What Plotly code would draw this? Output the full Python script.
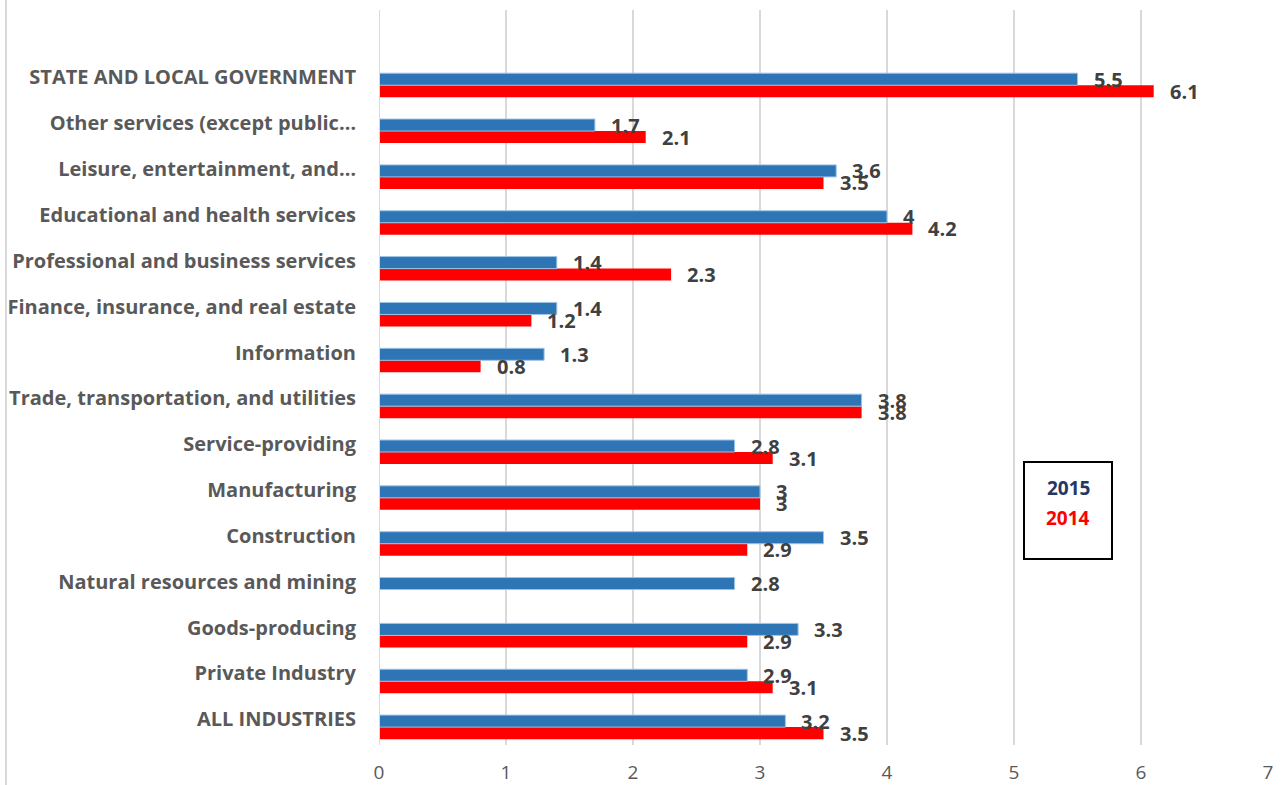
import plotly.graph_objects as go

categories = [
    "STATE AND LOCAL GOVERNMENT",
    "Other services (except public…",
    "Leisure, entertainment, and…",
    "Educational and health services",
    "Professional and business services",
    "Finance, insurance, and real estate",
    "Information",
    "Trade, transportation, and utilities",
    "Service-providing",
    "Manufacturing",
    "Construction",
    "Natural resources and mining",
    "Goods-producing",
    "Private Industry",
    "ALL INDUSTRIES",
]
values_2015 = [5.5, 1.7, 3.6, 4, 1.4, 1.4, 1.3, 3.8, 2.8, 3, 3.5, 2.8, 3.3, 2.9, 3.2]
values_2014 = [6.1, 2.1, 3.5, 4.2, 2.3, 1.2, 0.8, 3.8, 3.1, 3, 2.9, None, 2.9, 3.1, 3.5]
x_ticks = [0, 1, 2, 3, 4, 5, 6, 7]

n = len(categories)
pos = [n - 1 - i for i in range(n)]
BW = 0.262
OFF = BW / 2

BLUE = "#2E75B6"
RED = "#FF0000"
LABEL = "#404040"
FONT = "Open Sans"

fig = go.Figure()
fig.add_trace(go.Bar(
    y=[p - OFF for p in pos], x=values_2014, orientation="h", width=BW,
    marker=dict(color=RED, line=dict(width=0)), name="2014", showlegend=False,
))
fig.add_trace(go.Bar(
    y=[p + OFF for p in pos], x=values_2015, orientation="h", width=BW,
    marker=dict(color=BLUE, line=dict(color="#9DC3E6", width=1)), name="2015", showlegend=False,
))

annotations = []
for p, v in zip(pos, values_2015):
    if v is not None:
        annotations.append(dict(x=v, y=p + OFF, xref="x", yref="y", text=f"<b>{v:g}</b>",
                                showarrow=False, xanchor="left", yanchor="middle", xshift=14, yshift=0,
                                font=dict(family=FONT, size=20, color=LABEL)))
for p, v in zip(pos, values_2014):
    if v is not None:
        annotations.append(dict(x=v, y=p - OFF, xref="x", yref="y", text=f"<b>{v:g}</b>",
                                showarrow=False, xanchor="left", yanchor="middle", xshift=14, yshift=0,
                                font=dict(family=FONT, size=20, color=LABEL)))

fig.update_layout(
    width=1288, height=785,
    margin=dict(l=379, r=20, t=10, b=40),
    paper_bgcolor="white", plot_bgcolor="white",
    barmode="overlay",
    annotations=annotations,
    xaxis=dict(range=[0, 7], tickvals=x_ticks, showgrid=True, gridcolor="#D9D9D9", gridwidth=2,
               zeroline=False, showline=False, ticks="", ticklabelstandoff=14, automargin=False,
               tickfont=dict(family=FONT, size=19, color="#595959"), fixedrange=True),
    yaxis=dict(range=[-0.39, 15.64], tickvals=[p + 0.17 for p in pos], ticktext=[f"<b>{c}</b>" for c in categories],
               showgrid=False, zeroline=False, showline=False, ticks="", ticklabelstandoff=22, automargin=False,
               tickfont=dict(family=FONT, size=20, color="#595959")),
    shapes=[
        dict(type="line", xref="paper", yref="paper", x0=(6 - 379) / 889, x1=(6 - 379) / 889, y0=-40 / 735, y1=745 / 735,
             line=dict(color="#D9D9D9", width=2)),
        dict(type="line", xref="x", yref="paper", x0=0, x1=0, y0=0, y1=1, line=dict(color="#D9D9D9", width=2)),
        dict(type="rect", xref="paper", yref="paper",
             x0=(1024 - 379) / 889, x1=(1112 - 379) / 889, y0=(745 - 559) / 735, y1=(745 - 462) / 735,
             line=dict(color="black", width=2), fillcolor="white"),
    ],
)
fig.add_annotation(x=(1068 - 379) / 889, y=(745 - 488) / 735, xref="paper", yref="paper", text="<b>2015</b>",
                   xanchor="center", yanchor="middle",
                   showarrow=False, font=dict(family=FONT, size=19, color="#1F3864"))
fig.add_annotation(x=(1068 - 379) / 889, y=(745 - 518) / 735, xref="paper", yref="paper", text="<b>2014</b>",
                   xanchor="center", yanchor="middle",
                   showarrow=False, font=dict(family=FONT, size=19, color=RED))

fig.write_html("out.html")
